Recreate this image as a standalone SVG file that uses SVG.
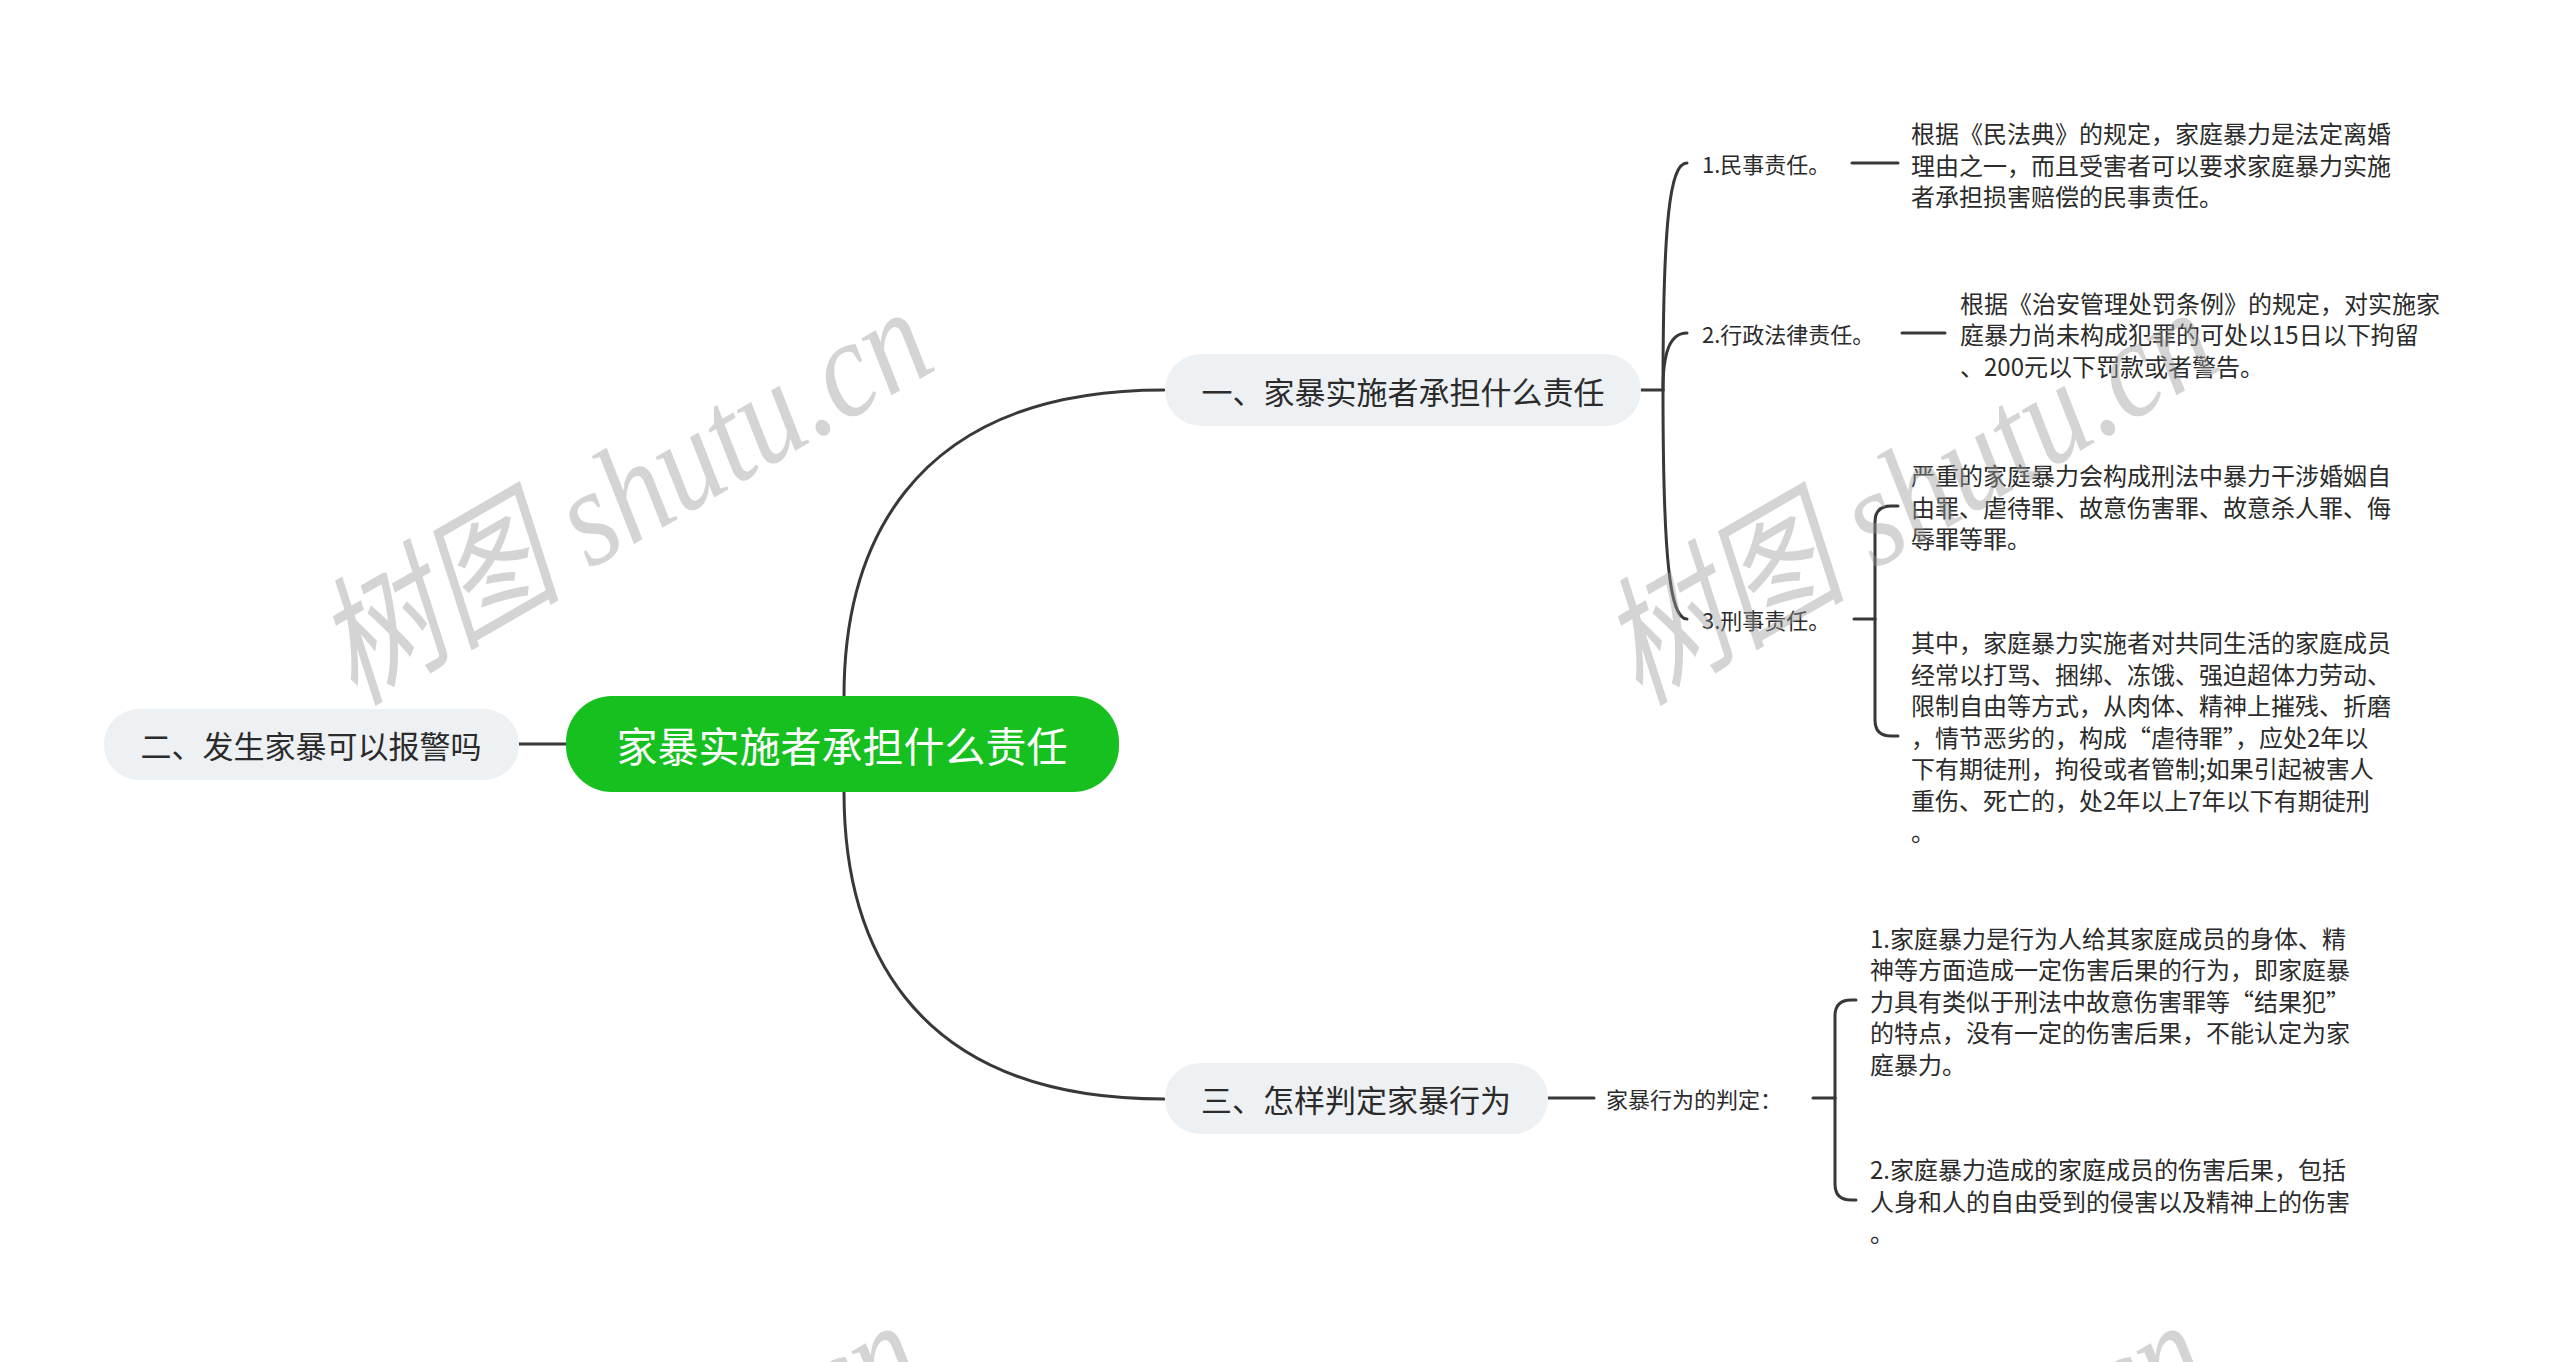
<svg xmlns="http://www.w3.org/2000/svg" width="2560" height="1362" viewBox="0 0 2560 1362">
<style>
text{font-family:"Noto Sans CJK SC","Microsoft YaHei",sans-serif;fill:#2b2b2b;dominant-baseline:central}
.sub{fill:#eef1f4}
.t31{font-size:31px;text-anchor:middle}
.t22{font-size:22px}
.t24{font-size:24px}
.conn path{fill:none;stroke:#383838;stroke-width:3;stroke-linecap:round}
.wm{font-family:"Liberation Serif","Noto Sans CJK SC",serif;font-style:italic;font-size:140px;fill:#9a9a9a;opacity:0.42;dominant-baseline:auto}
</style>
<rect width="2560" height="1362" fill="#ffffff"/>
<g class="conn" id="connectors">
<path d="M844 696 C844 560 900 390 1164 390"/>
<path d="M844 792 C844 930 900 1099 1164 1099"/>
<path d="M566 744 L519 744"/>
<path d="M1641 390 L1663 390"/>
<path d="M1663 390 C1663 220 1670 163 1687 163"/>
<path d="M1663 390 C1663 352 1670 333 1687 333"/>
<path d="M1663 390 C1663 560 1670 619 1687 619"/>
<path d="M1852 163 L1898 163"/>
<path d="M1902 333 L1945 333"/>
<path d="M1854 619 L1875 619"/>
<path d="M1875 619 L1875 522 Q1875 506 1891 506 L1898 506"/>
<path d="M1875 619 L1875 720 Q1875 736 1891 736 L1898 736"/>
<path d="M1548 1098 L1594 1098"/>
<path d="M1813 1098 L1835 1098"/>
<path d="M1835 1098 L1835 1016 Q1835 1000 1851 1000 L1856 1000"/>
<path d="M1835 1098 L1835 1184 Q1835 1200 1851 1200 L1856 1200"/>
</g>
<g id="root">
<rect x="566" y="696" width="553" height="96" rx="46" fill="#16c01f"/>
<text x="842" y="744" style="font-size:41px;text-anchor:middle;fill:#ffffff">家暴实施者承担什么责任</text>
</g>
<g id="node-er">
<rect class="sub" x="104" y="709" width="415" height="71" rx="35"/>
<text class="t31" x="311" y="744">二、发生家暴可以报警吗</text>
</g>
<g id="node-yi">
<rect class="sub" x="1165" y="354" width="476" height="72" rx="36"/>
<text class="t31" x="1403" y="390">一、家暴实施者承担什么责任</text>
</g>
<g id="node-san">
<rect class="sub" x="1165" y="1063" width="383" height="71" rx="35"/>
<text class="t31" x="1356" y="1098">三、怎样判定家暴行为</text>
</g>
<g id="node-minshi"><text class="t22" x="1702" y="163">1.民事责任。</text></g>
<g id="node-xingzheng"><text class="t22" x="1702" y="333">2.行政法律责任。</text></g>
<g id="node-xingshi"><text class="t22" x="1702" y="619">3.刑事责任。</text></g>
<g id="node-panding"><text class="t22" x="1606" y="1098">家暴行为的判定：</text></g>
<g id="desc-minshi">
<text class="t24" x="1911" y="132.5">根据《民法典》的规定，家庭暴力是法定离婚</text>
<text class="t24" x="1911" y="164">理由之一，而且受害者可以要求家庭暴力实施</text>
<text class="t24" x="1911" y="195.5">者承担损害赔偿的民事责任。</text>
</g>
<g id="desc-xingzheng">
<text class="t24" x="1960" y="302">根据《治安管理处罚条例》的规定，对实施家</text>
<text class="t24" x="1960" y="333.5">庭暴力尚未构成犯罪的可处以15日以下拘留</text>
<text class="t24" x="1960" y="365">、200元以下罚款或者警告。</text>
</g>
<g id="desc-xingshi-1">
<text class="t24" x="1911" y="474.5">严重的家庭暴力会构成刑法中暴力干涉婚姻自</text>
<text class="t24" x="1911" y="506">由罪、虐待罪、故意伤害罪、故意杀人罪、侮</text>
<text class="t24" x="1911" y="537.5">辱罪等罪。</text>
</g>
<g id="desc-xingshi-2">
<text class="t24" x="1911" y="641.5">其中，家庭暴力实施者对共同生活的家庭成员</text>
<text class="t24" x="1911" y="673">经常以打骂、捆绑、冻饿、强迫超体力劳动、</text>
<text class="t24" x="1911" y="704.5">限制自由等方式，从肉体、精神上摧残、折磨</text>
<text class="t24" x="1911" y="736">，情节恶劣的，构成“虐待罪”，应处2年以</text>
<text class="t24" x="1911" y="767.5">下有期徒刑，拘役或者管制;如果引起被害人</text>
<text class="t24" x="1911" y="799">重伤、死亡的，处2年以上7年以下有期徒刑</text>
<text class="t24" x="1911" y="830.5">。</text>
</g>
<g id="desc-panding-1">
<text class="t24" x="1870" y="937">1.家庭暴力是行为人给其家庭成员的身体、精</text>
<text class="t24" x="1870" y="968.5">神等方面造成一定伤害后果的行为，即家庭暴</text>
<text class="t24" x="1870" y="1000">力具有类似于刑法中故意伤害罪等“结果犯”</text>
<text class="t24" x="1870" y="1031.5">的特点，没有一定的伤害后果，不能认定为家</text>
<text class="t24" x="1870" y="1063">庭暴力。</text>
</g>
<g id="desc-panding-2">
<text class="t24" x="1870" y="1168.5">2.家庭暴力造成的家庭成员的伤害后果，包括</text>
<text class="t24" x="1870" y="1200">人身和人的自由受到的侵害以及精神上的伤害</text>
<text class="t24" x="1870" y="1231.5">。</text>
</g>
<g id="watermarks">
<text class="wm" transform="translate(355 705) rotate(-30) scale(0.86 1)">树图 shutu.cn</text>
<text class="wm" transform="translate(1640 705) rotate(-30) scale(0.86 1)">树图 shutu.cn</text>
<text class="wm" transform="translate(345 1718) rotate(-30) scale(0.86 1)">树图 shutu.cn</text>
<text class="wm" transform="translate(1630 1718) rotate(-30) scale(0.86 1)">树图 shutu.cn</text>
</g>
</svg>
